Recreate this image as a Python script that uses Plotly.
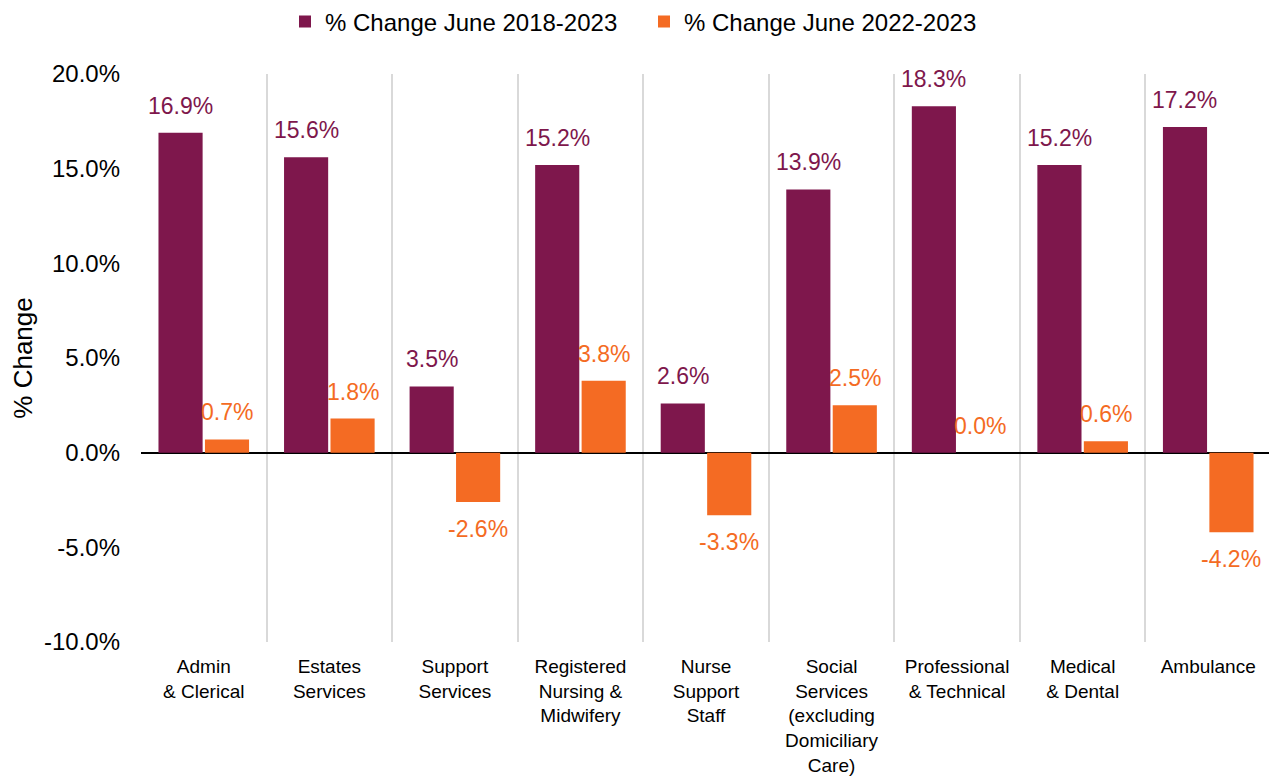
import plotly.graph_objects as go

categories = ["Admin<br>& Clerical", "Estates<br>Services", "Support<br>Services",
              "Registered<br>Nursing &<br>Midwifery", "Nurse<br>Support<br>Staff",
              "Social<br>Services<br>(excluding<br>Domiciliary<br>Care)",
              "Professional<br>& Technical", "Medical<br>& Dental", "Ambulance"]
change_2018_2023 = [16.9, 15.6, 3.5, 15.2, 2.6, 13.9, 18.3, 15.2, 17.2]
change_2022_2023 = [0.7, 1.8, -2.6, 3.8, -3.3, 2.5, 0.0, 0.6, -4.2]
series_names = ["% Change June 2018-2023", "% Change June 2022-2023"]
y_tick_vals = [-10, -5, 0, 5, 10, 15, 20]
y_tick_labels = ["-10.0%", "-5.0%", "0.0%", "5.0%", "10.0%", "15.0%", "20.0%"]

PURPLE = "#7E174C"
ORANGE = "#F46B23"
FONT = "Arial, Liberation Sans, sans-serif"

# page has an 8px body margin, so the figure is drawn 8px smaller
W, H = 1269, 768
ML, MR, MT, MB = 133, 6, 66, 134
BARGAP = 0.26
cat_w = (W - ML - MR) / len(categories)
slot = cat_w * (1 - BARGAP) / 2

fig = go.Figure()
fig.add_trace(go.Bar(x=categories, y=change_2018_2023, name=series_names[0],
                     marker=dict(color=PURPLE, line=dict(width=0)),
                     legend="legend", showlegend=True))
fig.add_trace(go.Bar(x=categories, y=change_2022_2023, name=series_names[1],
                     marker=dict(color=ORANGE, line=dict(width=0)),
                     legend="legend2", showlegend=True))

annotations = []
for vals, color, sign in [(change_2018_2023, PURPLE, -1), (change_2022_2023, ORANGE, 1)]:
    for cat, v in zip(categories, vals):
        annotations.append(dict(
            x=cat, y=v, xref="x", yref="y", text=f"{v:.1f}%", showarrow=False,
            xshift=sign * slot / 2, yshift=27 if v >= 0 else -27,
            yanchor="middle", xanchor="center",
            font=dict(family=FONT, size=23, color=color)))

leg_common = dict(orientation="h", xanchor="left", xref="container",
                  yanchor="middle", yref="container", y=1 - 14 / H,
                  font=dict(family=FONT, size=24, color="#000000"),
                  itemwidth=30, bgcolor="rgba(0,0,0,0)", visible=True)

fig.update_layout(
    width=W, height=H,
    margin=dict(l=ML, r=MR, t=MT, b=MB, autoexpand=False),
    paper_bgcolor="white", plot_bgcolor="white",
    showlegend=True,
    barmode="group", bargap=BARGAP, bargroupgap=0.05,
    font=dict(family=FONT, color="#000000"),
    legend=dict(x=277 / W, **leg_common),
    legend2=dict(x=636 / W, **leg_common),
    annotations=annotations,
    xaxis=dict(
        type="category", categoryorder="array", categoryarray=categories,
        tickson="boundaries", showgrid=True, gridcolor="#D9D9D9", gridwidth=2,
        ticks="", showline=False, zeroline=False,
        tickfont=dict(family=FONT, size=19, color="#000000"),
        ticklabelstandoff=11,
    ),
    yaxis=dict(
        range=[-10, 20], tickmode="array", tickvals=y_tick_vals, ticktext=y_tick_labels,
        showgrid=False, zeroline=True, zerolinecolor="#000000", zerolinewidth=2,
        showline=False, ticks="",
        tickfont=dict(family=FONT, size=24, color="#000000"),
        ticklabelstandoff=20,
        title=dict(text="% Change", font=dict(family=FONT, size=26, color="#000000"), standoff=6),
    ),
)

fig.write_html("out.html")
